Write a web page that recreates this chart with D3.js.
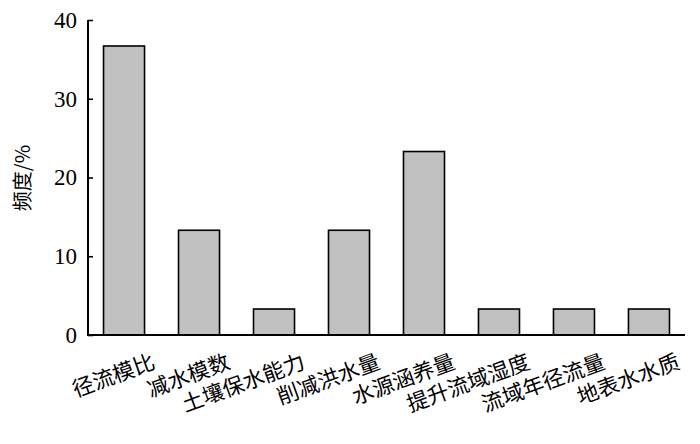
<!DOCTYPE html>
<html><head><meta charset="utf-8">
<script src="https://cdn.jsdelivr.net/npm/d3@7"></script>
<style>body{margin:0;background:#fff}</style>
</head><body>
<svg id="c" width="700" height="444"></svg>
<script>
const categories = ["径流模比","减水模数","土壤保水能力","削减洪水量","水源涵养量","提升流域湿度","流域年径流量","地表水水质"];
const values = [36.7, 13.3, 3.3, 13.3, 23.3, 3.3, 3.3, 3.3];
const yTicks = [0, 10, 20, 30, 40];
const yLabel = "频度/%";

const svg = d3.select("#c");
const x = d3.scaleBand().domain(categories).range([88, 685]).paddingInner(0.453).paddingOuter(0.207);
const y = d3.scaleLinear().domain([0, 40]).range([335, 20]);

svg.append("g").selectAll("rect").data(values).join("rect")
  .attr("x", (d,i) => x(categories[i]))
  .attr("y", d => y(d))
  .attr("width", x.bandwidth())
  .attr("height", d => y(0) - y(d))
  .attr("fill", "#c0c0c0").attr("stroke", "#000").attr("stroke-width", 1.6);

const yAxis = svg.append("g").attr("transform", "translate(88,0)")
  .call(d3.axisLeft(y).tickValues(yTicks).tickSize(-5).tickPadding(11));
yAxis.select(".domain").attr("stroke-width", 2).attr("d", "M0,20V335");
yAxis.selectAll(".tick line").attr("stroke-width", 1.6);
yAxis.selectAll("text").attr("font-family", "'Liberation Serif', serif").attr("font-size", 23).attr("fill", "#000");

svg.append("line").attr("x1", 87).attr("x2", 685).attr("y1", y(0)).attr("y2", y(0))
  .attr("stroke", "#000").attr("stroke-width", 2);

svg.append("g").selectAll("text").data(categories).join("text")
  .attr("transform", d => `translate(${x(d) + x.bandwidth()/2 + 32.5},368) rotate(-20)`)
  .attr("text-anchor", "end")
  .attr("font-family", "'Noto Sans CJK SC', sans-serif").attr("font-size", 21.5)
  .attr("fill", "#000")
  .text(d => d);

svg.append("text")
  .attr("transform", "translate(30,178) rotate(-90)")
  .attr("text-anchor", "middle")
  .attr("font-family", "'Noto Sans CJK SC', sans-serif").attr("font-size", 20)
  .attr("fill", "#000")
  .text(yLabel);
</script>
</body></html>
